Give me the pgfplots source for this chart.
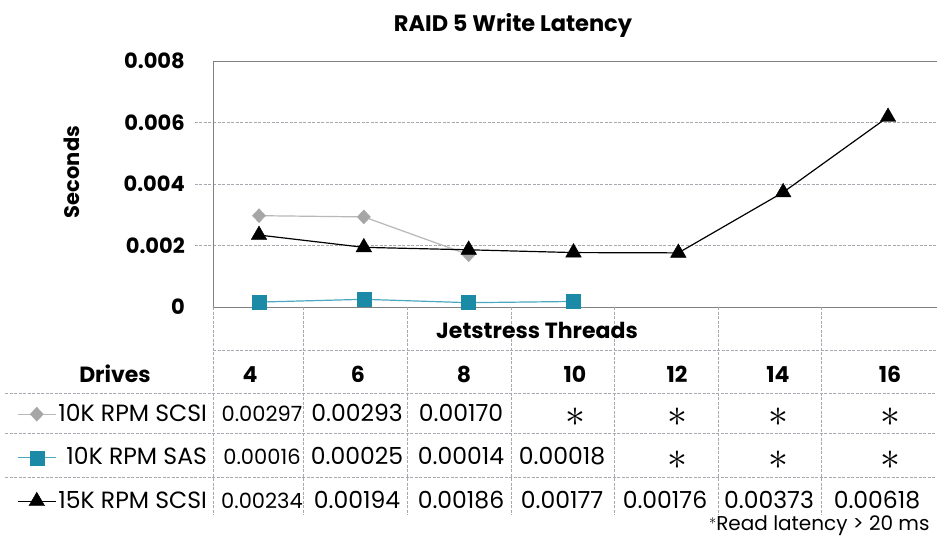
\documentclass[border=0pt]{standalone}
\usepackage{fontspec}
\setmainfont{Poppins}
\usepackage{pgfplots}
\pgfplotsset{compat=1.18}

\definecolor{scsiten}{HTML}{A6A6A6}
\definecolor{scsitenline}{HTML}{B8B8B8}
\definecolor{sasten}{HTML}{1B8AA6}
\definecolor{sastenline}{HTML}{4AA8C0}
\definecolor{gridc}{HTML}{A8A8B0}
\definecolor{axisc}{HTML}{808080}

\newcommand\valfont{\fontsize{23.5}{26}\selectfont}
\newcommand\smallval{\fontsize{21}{24}\selectfont}
\newcommand\headfont{\bfseries\fontsize{22}{26}\selectfont}
% "no value" marker in the table cells, kept out of the row height
\newcommand\na{{\fontsize{24.88}{26}\selectfont\smash{\scalebox{1.6}{$\ast$}}}}

\begin{document}
\begin{tikzpicture}[x=1pt,y=1pt]
\useasboundingbox (0,0) rectangle (937,-556);
\fill[white] (0,0) rectangle (937,-556);

% title and y label
\node[anchor=base, font=\bfseries\fontsize{22.5}{26}\selectfont] at (513,-32) {RAID 5 Write Latency};
\node[rotate=90, font=\bfseries\fontsize{21}{25}\selectfont] at (72,-172) {Seconds};

\begin{axis}[
  at={(213pt,-307pt)}, anchor=south west, scale only axis,
  width=727pt, height=246pt,
  xmin=-0.4388, xmax=6.496, ymin=0, ymax=0.008,
  xtick=\empty,
  ytick={0,0.002,0.004,0.006,0.008},
  yticklabels={0,0.002,0.004,0.006,0.008},
  scaled y ticks=false,
  major tick length=0pt,
  yticklabel style={font=\bfseries\fontsize{21}{25}\selectfont, inner sep=0pt, xshift=-28pt},
  ymajorgrids,
  grid style={gridc, dash pattern=on 3pt off 1.5pt, line width=0.8pt},
  extra y ticks={0.002,0.004,0.006},
  extra y tick labels={},
  extra y tick style={grid=none, tick align=outside, major tick length=18pt,
    tick style={gridc, dash pattern=on 3pt off 1.5pt, line width=0.8pt}},
  axis line style={axisc, line width=1pt},
  clip=false,
  legend entries={10K RPM SCSI,10K RPM SAS,15K RPM SCSI},
  legend style={at={(axis description cs:-0.2696,-0.3984)}, anchor=north west,
    draw=none, fill=none, inner sep=0pt, row sep=23.5pt, column sep=2pt,
    font=\valfont,
    cells={anchor=base east},
    nodes={inner sep=0pt, text height=16pt, text depth=4pt}},
  legend image code/.code={\draw[mark repeat=2,mark phase=2] plot coordinates {(0pt,7pt) (19pt,7pt) (38pt,7pt)};},
]
\addplot[scsitenline, line width=1.2pt, mark=diamond*, mark size=7pt,
  mark options={fill=scsiten, draw=scsiten, line width=0.4pt, xscale=1.25}]
  coordinates {(0,0.00297) (1,0.00293) (2,0.00170)};
\addplot[sastenline, line width=1.2pt, mark=square*, mark size=7pt,
  mark options={fill=sasten, draw=sasten, line width=0.4pt}]
  coordinates {(0,0.00016) (1,0.00025) (2,0.00014) (3,0.00018)};
\addplot[black, line width=1.2pt, mark=triangle*, mark size=9pt,
  mark options={fill=black, line width=0.4pt}]
  coordinates {(0,0.00234) (1,0.00194) (2,0.00186) (3,0.00177) (4,0.00176) (5,0.00373) (6,0.00618)};
\end{axis}

% data table below the plot
\begin{scope}[gridc, dash pattern=on 3pt off 1.5pt, line width=0.8pt]
  \draw (213,-350) -- (937,-350);
  \foreach \y in {393,433,477} \draw (5,-\y) -- (937,-\y);
  \foreach \x in {213,303,407,511,614,718,821} \draw (\x,-307) -- (\x,-515);
\end{scope}

\node[anchor=base, font=\headfont] at (537,-338) {Jetstress Threads};
\node[anchor=base, font=\headfont] at (115,-382) {Drives};
\foreach \x/\t in {250/4,358/6,464/8,575/10,677/12,778/14,890/16}
  \node[anchor=base, font=\headfont] at (\x,-382) {\t};

% row 1: 10K RPM SCSI
\node[anchor=base, font=\smallval] at (262,-421) {0.00297};
\foreach \x/\t in {357/0.00293,461/0.00170}
  \node[anchor=base, font=\valfont] at (\x,-421) {\t};
\foreach \x in {575,677,778,890}
  \node[anchor=base, inner sep=0pt] at (\x,-426) {\na};
% row 2: 10K RPM SAS
\node[anchor=base, font=\smallval] at (262,-464) {0.00016};
\foreach \x/\t in {357/0.00025,461/0.00014,562/0.00018}
  \node[anchor=base, font=\valfont] at (\x,-464) {\t};
\foreach \x in {677,778,890}
  \node[anchor=base, inner sep=0pt] at (\x,-469) {\na};
% row 3: 15K RPM SCSI
\node[anchor=base, font=\smallval] at (262,-508) {0.00234};
\foreach \x/\t in {357/0.00194,461/0.00186,562/0.00177,665/0.00176,769/0.00373,877/0.00618}
  \node[anchor=base, font=\valfont] at (\x,-508) {\t};

\node[anchor=base east, font=\fontsize{20}{24}\selectfont] at (933,-530) {\raisebox{0.3em}{\fontsize{14}{14}\selectfont$\ast$}Read latency > 20 ms};
\end{tikzpicture}
\end{document}
